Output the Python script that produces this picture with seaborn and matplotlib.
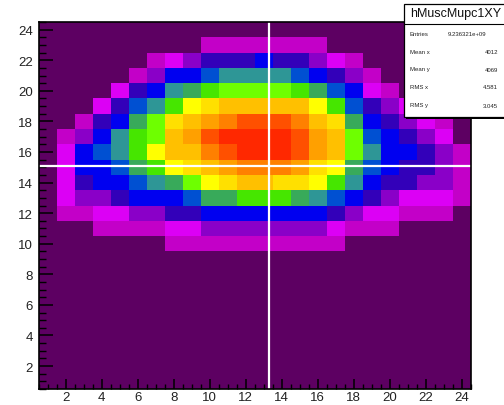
import numpy as np
import seaborn as sns
import matplotlib
matplotlib.use('Agg')
import matplotlib.pyplot as plt
from matplotlib.colors import ListedColormap
from matplotlib.patches import Rectangle

# colour level of each bin, rows from y=24 (top) down to y=1, columns x=1..24
counts = [
    [0]*24,
    [0]*9 + [1]*7 + [0]*8,
    [0,0,0,0,0,0,1,2,3,4,4,4,5,4,4,3,2,1,0,0,0,0,0,0],
    [0,0,0,0,0,1,3,5,5,6,7,7,7,7,6,5,4,3,1,0,0,0,0,0],
    [0,0,0,0,2,4,5,7,8,9,10,10,10,10,9,8,6,5,2,1,0,0,0,0],
    [0,0,0,2,4,6,7,9,11,12,13,13,13,13,13,11,9,6,4,3,2,1,0,0],
    [0,0,1,4,5,8,10,12,13,14,15,16,16,16,15,13,12,8,5,4,3,2,1,0],
    [0,1,3,5,7,9,10,13,14,16,17,17,17,17,16,14,13,10,6,5,4,3,2,0],
    [0,2,5,6,7,9,11,13,13,15,16,17,17,17,16,14,13,10,7,5,5,4,3,1],
    [0,2,5,5,6,8,9,11,12,13,14,15,15,15,14,12,11,8,6,5,4,4,3,1],
    [0,2,4,5,5,6,7,8,10,11,12,13,13,12,12,11,9,7,5,4,4,3,3,1],
    [0,2,3,3,4,5,5,5,6,8,8,9,9,9,8,7,6,5,4,3,2,2,2,1],
    [0,1,1,2,2,3,3,4,4,5,5,5,5,5,5,5,4,3,2,2,1,1,1,0],
    [0,0,0,1,1,1,1,2,2,3,3,3,3,3,3,3,2,1,1,1,0,0,0,0],
    [0]*7 + [1]*10 + [0]*7,
] + [[0]*24 for _ in range(9)]

palette = ['#5d0062', '#c300c8', '#dc00f5', '#8a00c8', '#3300b9', '#0000f0',
           '#0050d2', '#2e9696', '#38aa5a', '#46e600', '#6eff00', '#ffff00',
           '#ffe000', '#ffc000', '#ffa000', '#ff8000', '#ff5000', '#ff2800']

x_ticks = list(range(2, 25, 2))
y_ticks = list(range(2, 25, 2))
cross_x = 13.28
cross_y = 15.08

stats_title = 'hMuscMupc1XY'
stats_names = ['Entries', 'Mean x', 'Mean y', 'RMS x', 'RMS y']
stats_values = ['9.236321e+09', '4012', '4069', '4.581', '3.045']

plt.rcParams['font.family'] = ['Liberation Sans', 'DejaVu Sans']

fig = plt.figure(figsize=(5.04, 4.06), dpi=100)
ax = fig.add_axes([38.5/504, 1-390/406, 432.5/504, 367/406])

sns.heatmap(np.array(counts), ax=ax, cmap=ListedColormap(palette),
            vmin=-0.5, vmax=17.5, cbar=False,
            xticklabels=False, yticklabels=False)

for s in ax.spines.values():
    s.set_visible(True)
    s.set_color('black')
    s.set_linewidth(1.2)

# heatmap cell i sits at [i, i+1] -> bin centre i+1
ax.set_xticks([v - 0.5 for v in x_ticks])
ax.set_xticklabels([str(v) for v in x_ticks], fontsize=9.5, color='#222222')
ax.set_xticks(np.arange(0, 24.01, 0.5), minor=True)
ax.set_yticks([24.5 - v for v in y_ticks])
ax.set_yticklabels([str(v) for v in y_ticks], fontsize=9.5, color='#222222',
                   rotation=0)
ax.set_yticks(np.arange(0, 24.01, 0.5), minor=True)
ax.tick_params(axis='x', which='major', direction='in', length=7.5, width=1.1, pad=1.5)
ax.tick_params(axis='x', which='minor', direction='in', length=3.8, width=1.0)
ax.tick_params(axis='y', which='major', direction='in', length=10, width=1.1, pad=4)
ax.tick_params(axis='y', which='minor', direction='in', length=5, width=1.0)

ax.axvline(cross_x - 0.5, color='white', lw=1.6)
ax.axhline(24.5 - cross_y, color='white', lw=1.6)

# stats box, running off the right edge
bx0, by0, bx1, by1 = 404, 5, 520, 118
def fx(p):
    return p / 504
def fy(p):
    return 1 - p / 406
fig.patches.append(Rectangle((fx(bx0 + 2), fy(by1 + 2)), fx(bx1 - bx0), (by1 - by0) / 406,
                             transform=fig.transFigure, facecolor='black',
                             edgecolor='none', zorder=5))
fig.patches.append(Rectangle((fx(bx0), fy(by1)), fx(bx1 - bx0), (by1 - by0) / 406,
                             transform=fig.transFigure, facecolor='white',
                             edgecolor='black', lw=0.9, zorder=6))
fig.lines.append(plt.Line2D([fx(bx0), fx(bx1)], [fy(25), fy(25)],
                            transform=fig.transFigure, color='black', lw=0.8, zorder=7))
fig.text(fx(410), fy(14), stats_title, fontsize=9, va='center', ha='left',
         color='#111111', zorder=8)
row_y = [34, 52, 70, 88, 106]
val_x = [448, 485, 485, 483, 483]
for name, val, yy, vx in zip(stats_names, stats_values, row_y, val_x):
    fig.text(fx(410), fy(yy), name, fontsize=4.3, va='center', ha='left',
             color='#222222', zorder=8)
    fig.text(fx(vx), fy(yy), val, fontsize=4.3, va='center', ha='left',
             color='#222222', zorder=8)

fig.savefig('out.png', dpi=100)
